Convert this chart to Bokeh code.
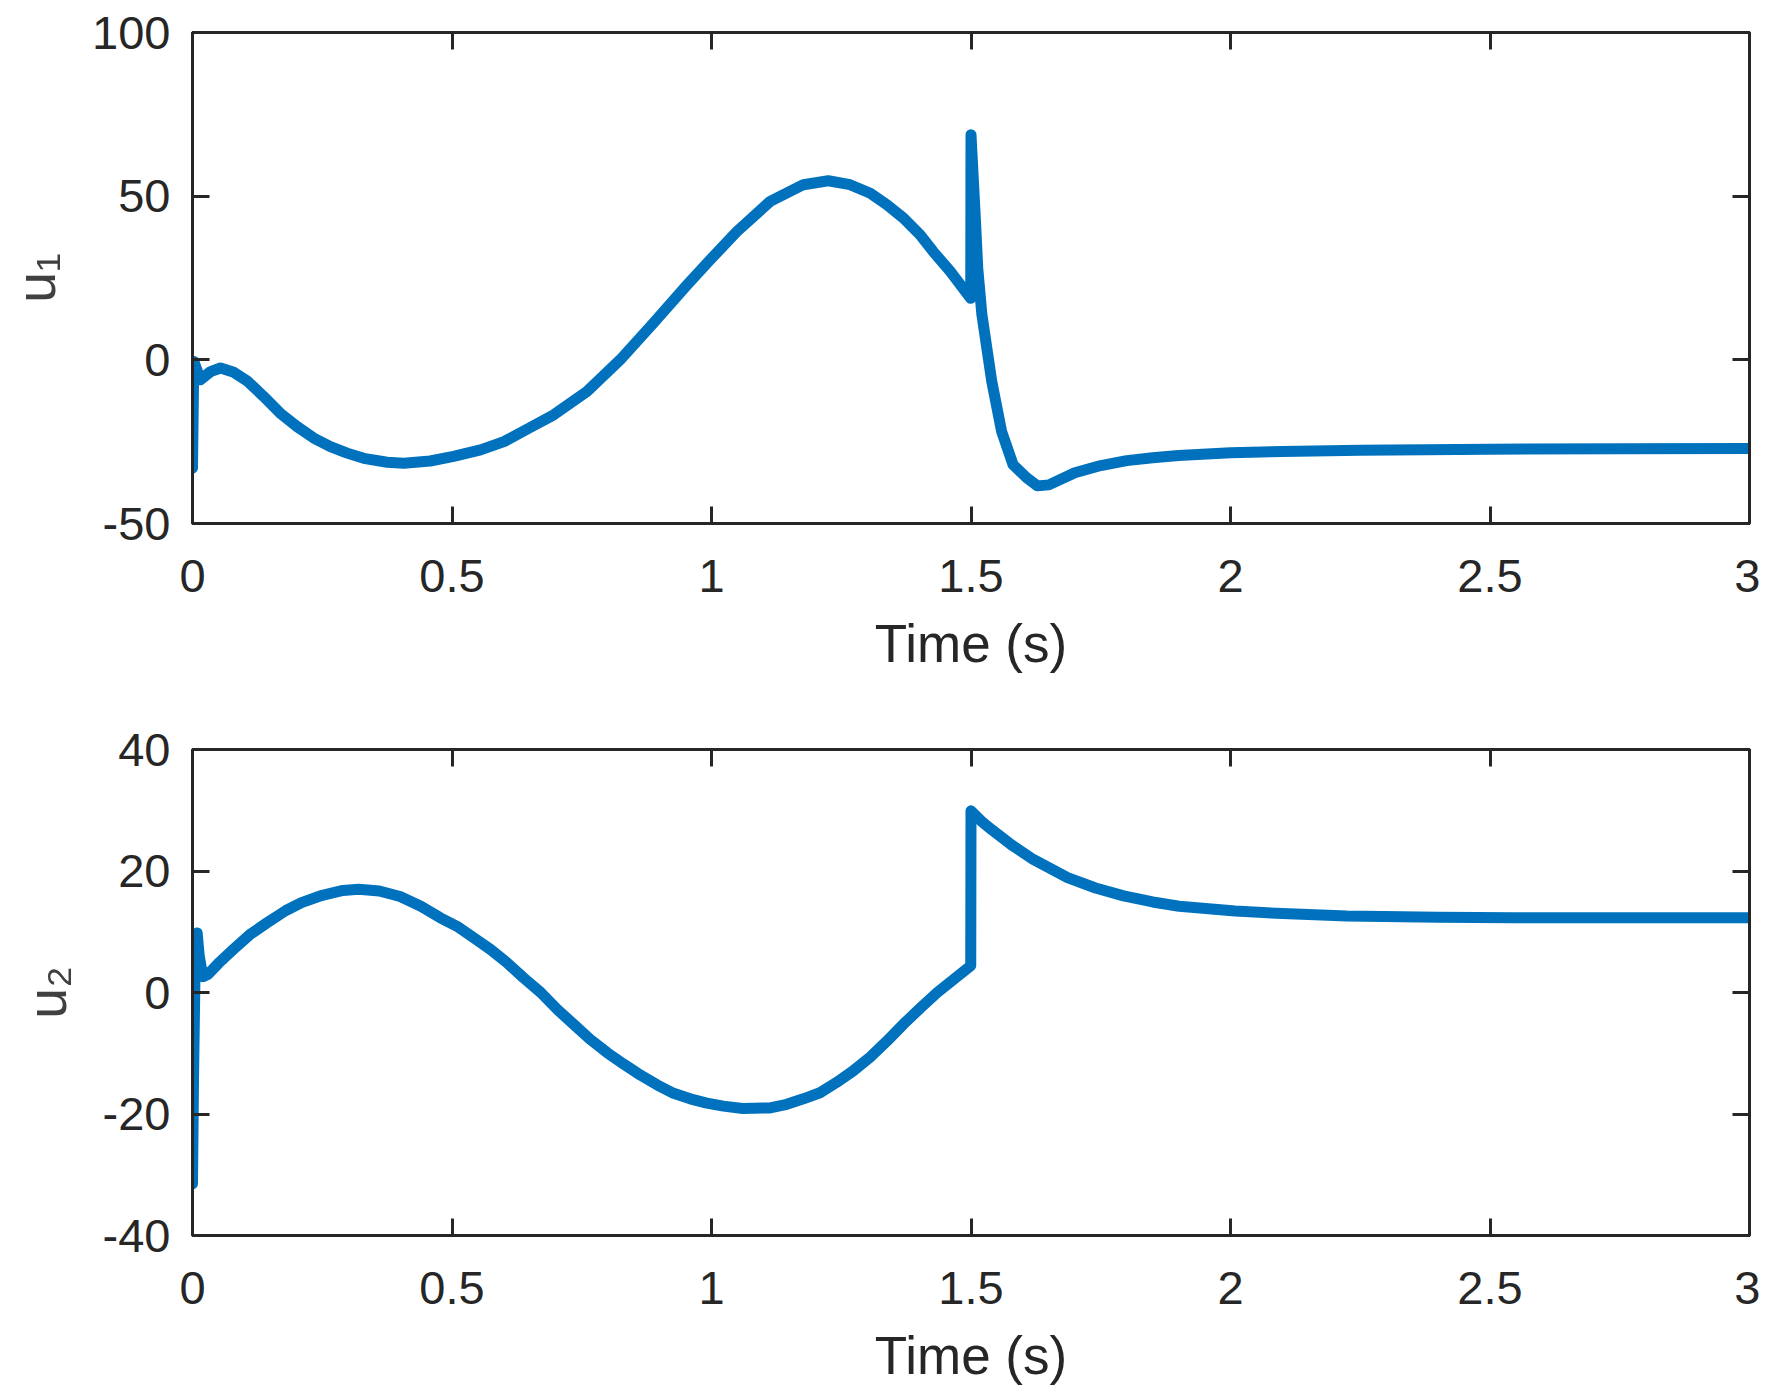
from bokeh.plotting import figure
from bokeh.models import Range1d, LinearAxis, FixedTicker, CustomLabelingPolicy
from bokeh.layouts import column
from bokeh.embed import file_html
from bokeh.resources import INLINE

# ---- data ----
t_u1 = [0.000, 0.0025, 0.0154, 0.0347, 0.054, 0.0796, 0.105, 0.137, 0.169, 0.2016,
        0.2336, 0.2657, 0.298, 0.330, 0.375, 0.407, 0.458, 0.503, 0.555, 0.600,
        0.648, 0.696, 0.760, 0.824, 0.888, 0.953, 1.000, 1.049, 1.113, 1.177,
        1.225, 1.267, 1.306, 1.338, 1.370, 1.402, 1.427, 1.460, 1.4995, 1.500,
        1.508, 1.513, 1.521, 1.540, 1.559, 1.581, 1.607, 1.628, 1.650, 1.700,
        1.750, 1.800, 1.850, 1.900, 2.000, 2.100, 2.250, 2.500, 2.750, 3.000]
u1 = [-33.1, -0.5, -6.1, -3.6, -2.5, -3.8, -6.4, -11.2, -16.3, -20.4,
      -23.9, -26.5, -28.5, -30.1, -31.3, -31.6, -30.9, -29.5, -27.5, -25.0,
      -20.9, -16.8, -9.7, 0.0, 11.2, 22.9, 31.0, 39.2, 48.4, 53.5,
      54.7, 53.5, 50.9, 47.4, 43.3, 38.2, 33.1, 27.0, 18.8, 68.8,
      44.4, 28.0, 13.8, -6.6, -21.9, -32.0, -36.0, -38.5, -38.2, -34.5,
      -32.3, -30.8, -29.9, -29.2, -28.4, -28.0, -27.6, -27.3, -27.2, -27.1]

t_u2 = [0.000, 0.002, 0.005, 0.009, 0.013, 0.020, 0.030, 0.050, 0.080, 0.110,
        0.144, 0.180, 0.210, 0.250, 0.290, 0.320, 0.360, 0.400, 0.440, 0.4776,
        0.5097, 0.5418, 0.574, 0.606, 0.638, 0.671, 0.703, 0.734, 0.766, 0.799,
        0.831, 0.863, 0.895, 0.927, 0.959, 0.991, 1.023, 1.060, 1.113, 1.145,
        1.177, 1.209, 1.241, 1.273, 1.306, 1.338, 1.370, 1.403, 1.435, 1.4995,
        1.500, 1.520, 1.540, 1.578, 1.620, 1.686, 1.740, 1.794, 1.850, 1.901,
        2.009, 2.100, 2.224, 2.400, 2.547, 3.000]
u2 = [-31.5, -14.0, 4.0, 9.8, 6.0, 2.6, 3.0, 4.8, 7.2, 9.5,
      11.5, 13.5, 14.8, 16.0, 16.8, 17.0, 16.7, 15.8, 14.2, 12.3,
      10.9, 9.0, 7.1, 4.9, 2.4, 0.0, -2.8, -5.2, -7.7, -9.9,
      -11.8, -13.6, -15.2, -16.6, -17.5, -18.2, -18.7, -19.1, -19.0, -18.4,
      -17.5, -16.5, -14.8, -12.9, -10.6, -8.0, -5.2, -2.5, 0.0, 4.4,
      29.9, 28.2, 26.8, 24.3, 21.9, 18.9, 17.2, 15.9, 14.9, 14.2,
      13.4, 13.0, 12.6, 12.4, 12.3, 12.3]

x_ticks = [0, 0.5, 1, 1.5, 2, 2.5, 3]
x_tick_labels = ["0", "0.5", "1", "1.5", "2", "2.5", "3"]
y1_ticks = [-50, 0, 50, 100]
y1_tick_labels = ["-50", "0", "50", "100"]
y2_ticks = [-40, -20, 0, 20, 40]
y2_tick_labels = ["-40", "-20", "0", "20", "40"]
x_label = "Time (s)"
y1_label = "u\u2081"
y2_label = "u\u2082"

LINE_COLOR = "#0072BD"
AX_COLOR = "#262626"
FONT = "Liberation Sans"

NO_LABELS = CustomLabelingPolicy(code="""
    for (const i of Array.from(indices)) { indices.unset(i) }
    return indices
""")


def style_axis(ax, ticks, labels):
    ax.ticker = FixedTicker(ticks=ticks)
    ax.major_tick_in = 17
    ax.major_tick_out = 0
    ax.minor_tick_line_color = None
    ax.axis_line_color = AX_COLOR
    ax.axis_line_width = 3
    ax.major_tick_line_color = AX_COLOR
    ax.major_tick_line_width = 3
    ax.major_label_text_font = FONT
    ax.major_label_text_color = AX_COLOR
    if labels is not None:
        ax.major_label_text_font_size = "47px"
        ax.major_label_overrides = {float(k): v for k, v in zip(ticks, labels)}
    else:
        ax.major_label_text_font_size = "0px"
        ax.major_label_standoff = 0
        ax.major_label_policy = NO_LABELS


def make_fig(t, u, yr, yticks, ylabels, ylabel, height, btop, bbottom):
    p = figure(width=1760, height=height, x_range=Range1d(0, 3),
               y_range=Range1d(*yr), output_backend="svg",
               toolbar_location=None, min_border_left=192,
               min_border_right=11, min_border_top=btop,
               min_border_bottom=bbottom)
    p.grid.visible = False
    p.background_fill_color = "white"
    p.border_fill_color = "white"
    p.outline_line_color = AX_COLOR
    p.outline_line_width = 3
    p.line(t, u, line_color=LINE_COLOR, line_width=11,
           line_join="round", line_cap="round")

    xa = p.xaxis[0]
    style_axis(xa, x_ticks, x_tick_labels)
    xa.major_label_standoff = 36
    xa.axis_label = x_label
    xa.axis_label_text_font = FONT
    xa.axis_label_text_font_size = "53px"
    xa.axis_label_text_font_style = "normal"
    xa.axis_label_text_color = AX_COLOR
    xa.axis_label_standoff = 19

    ya = p.yaxis[0]
    style_axis(ya, yticks, ylabels)
    ya.major_label_standoff = 22
    ya.axis_label = ylabel
    ya.axis_label_text_font = FONT
    ya.axis_label_text_font_size = "56px"
    ya.axis_label_text_font_style = "normal"
    ya.axis_label_text_color = "#404040"
    ya.axis_label_standoff = 22

    top = LinearAxis()
    style_axis(top, x_ticks, None)
    p.add_layout(top, "above")
    right = LinearAxis()
    style_axis(right, yticks, None)
    p.add_layout(right, "right")
    return p


p1 = make_fig(t_u1, u1, (-50, 100), y1_ticks, y1_tick_labels, y1_label, 709, 32, 186)
p2 = make_fig(t_u2, u2, (-40, 40), y2_ticks, y2_tick_labels, y2_label, 678, 40, 147)

layout = column(p1, p2, spacing=0)
open("out.html", "w").write(file_html(layout, INLINE))
